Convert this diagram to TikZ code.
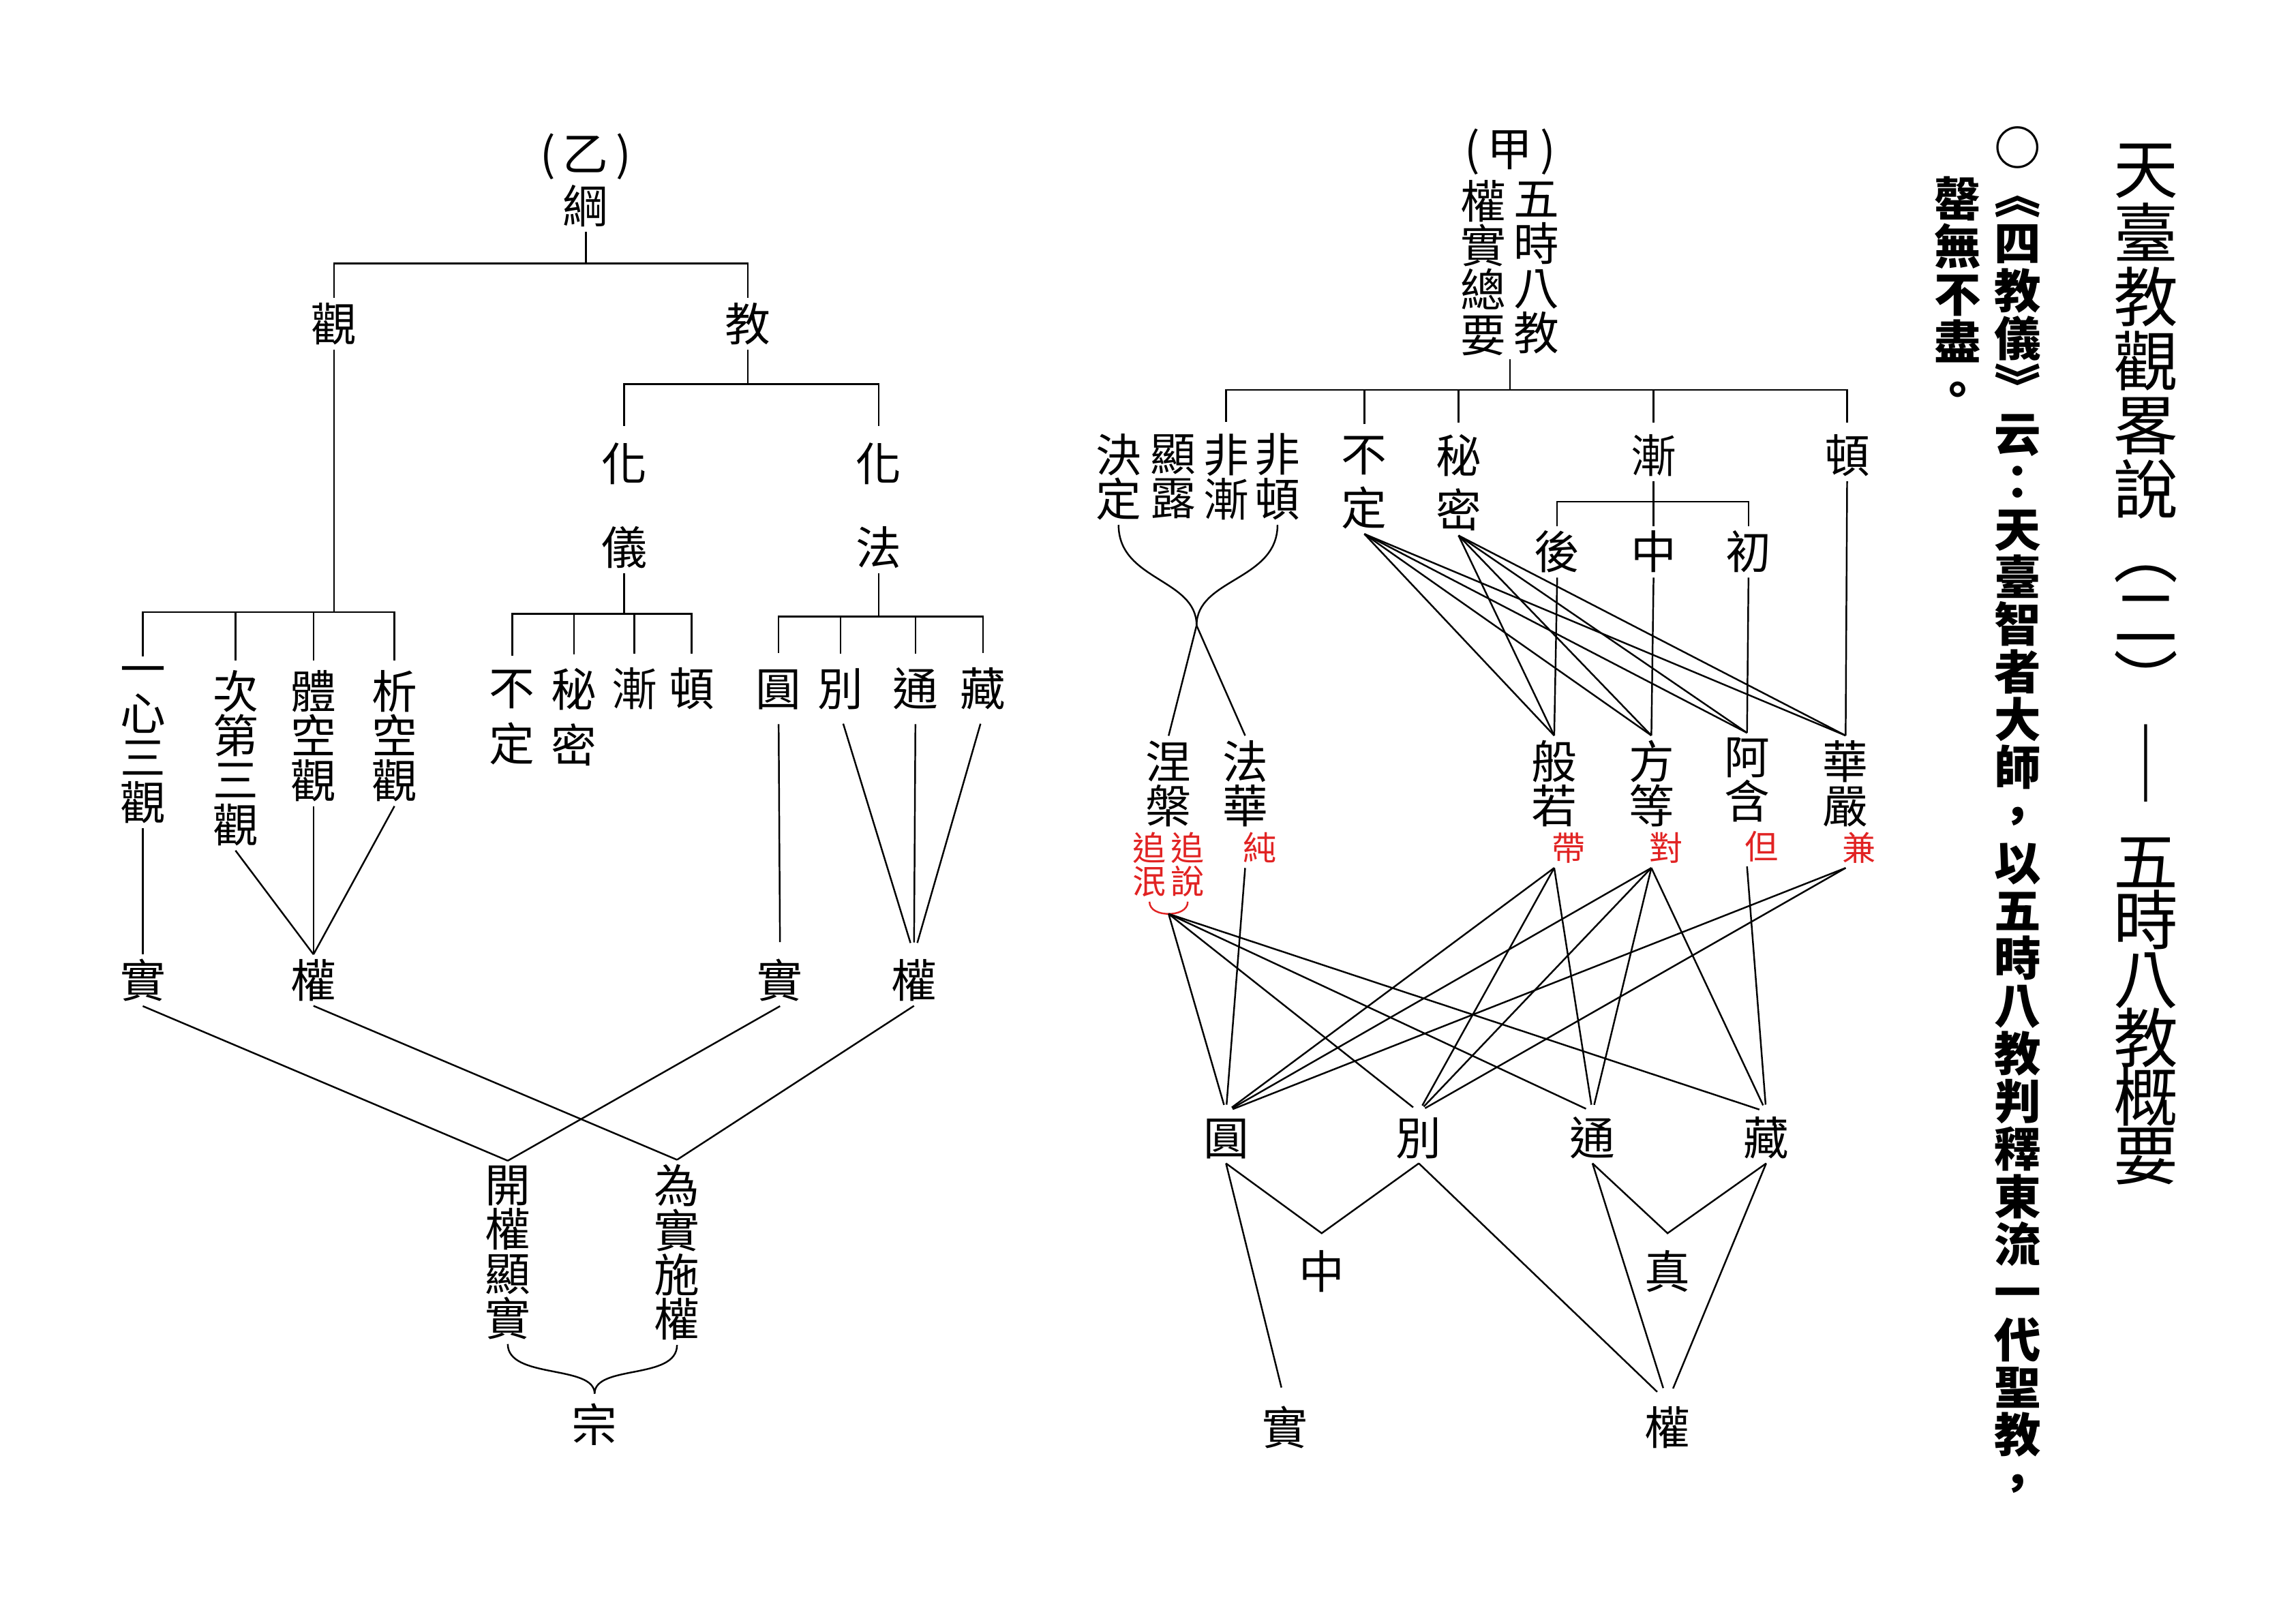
\documentclass[tikz,border=0pt]{standalone}
\usepackage{fontspec}
\setmainfont{Noto Sans CJK TC}
\newfontfamily\dashfont{Noto Sans CJK TC}[FakeStretch=0.65]
\usetikzlibrary{calc}
\definecolor{inkred}{RGB}{225,35,35}
\newcommand\cjs{\rule[-0.08em]{0pt}{0.92em}}
\newcommand\titlefont{\fontsize{27pt}{26.7pt}\selectfont\lineskiplimit=-50pt\relax}
\newcommand\longdash{\lower4.9pt\hbox{\dashfont\bfseries\fontsize{38pt}{38pt}\selectfont ︱}}

\begin{document}
\begin{tikzpicture}[x=0.2159mm, y=-0.2159mm, line width=0.7pt,
	lbl/.style={inner sep=2pt, outer sep=0pt, align=center,
		font=\fontsize{19pt}{18.6pt}\selectfont,
		execute at begin node=\cjs, execute at end node=\cjs},
	redlbl/.style={lbl, text=inkred, font=\fontsize{14pt}{14pt}\selectfont},
	col/.style={lbl, inner sep=0pt, anchor=north},
]
	\path[fill=white] (0,0) rectangle (1560,1102.4);
	\useasboundingbox (0,0) rectangle (1560,1102.4);

	% title columns
	\node[col, font=\titlefont] (title) at (1458,98)
		{天\\臺\\教\\觀\\畧\\說\\︵\\二\\︶\\[7pt]\longdash\\[15pt]五\\[-2.2pt]時\\[-2.2pt]八\\[-2.2pt]教\\[-2.2pt]概\\[-2.2pt]要};
	\node[col, font=\fontsize{19.5pt}{19.9pt}\selectfont\bfseries] (quote) at (1371,86) {○\\︽\\四\\教\\儀\\︾\\云\\：\\天\\臺\\智\\者\\大\\師\\，\\以\\五\\時\\八\\教\\判\\釋\\東\\流\\一\\代\\聖\\教\\，};
	\node[col, font=\fontsize{19.5pt}{19.9pt}\selectfont\bfseries] (quoteend) at (1330,120) {罄\\無\\不\\盡\\。};

	% (yi) gang
	\node[lbl] (yi) at (398,106) {(\,乙\,)};
	\node[lbl] (gang) at (398,140) {綱};
	\coordinate (gangbar) at (398,179);
	\node[lbl] (guan) at (227,220) {觀};
	\node[lbl] (jiao) at (508,220) {教};
	\draw (gang.south) -- (gangbar);
	\draw (guan.north) |- (gangbar) -| (jiao.north);

	\coordinate (jiaobar) at (508,261);
	\node[lbl] (hua1) at (424,315) {化};
	\node[lbl] (yiy) at (424,372) {儀};
	\node[lbl] (hua2) at (597,315) {化};
	\node[lbl] (fa) at (597,372) {法};
	\draw (jiao.south) -- (jiaobar);
	\draw[shorten <=5pt, shorten >=5pt] (hua1.north) |- (jiaobar) -| (hua2.north);

	% guan branch
	\coordinate (guanbar) at (227,416);
	\node[lbl] (yixin) at (97,506) {一\\心\\三\\觀};
	\node[lbl] (cidi) at (160,515) {次\\第\\三\\觀};
	\node[lbl] (tikong) at (213,500) {體\\空\\觀};
	\node[lbl] (xikong) at (268,500) {析\\空\\觀};
	\draw (guan.south) -- (guanbar);
	\draw[shorten <=2pt, shorten >=2pt] (yixin.north) |- (guanbar) -| (xikong.north);
	\foreach \n in {cidi,tikong} \draw[shorten <=2pt] (\n.north) -- (\n.north |- guanbar);

	% huayi branch
	\coordinate (yibar) at (424,417);
	\node[lbl] (buding1) at (348,487.5) {不\\[4.7pt]定};
	\node[lbl] (mimi1) at (390,487.5) {秘\\[4.7pt]密};
	\node[lbl] (jian1) at (431,468) {漸};
	\node[lbl] (dun1) at (470,468) {頓};
	\draw (yiy.south) -- (yibar);
	\draw[shorten <=4pt, shorten >=4pt] (buding1.north) |- (yibar) -| (dun1.north);
	\foreach \n in {mimi1,jian1} \draw[shorten <=4pt] (\n.north) -- (\n.north |- yibar);

	% huafa branch
	\coordinate (fabar) at (597,419);
	\node[lbl] (yuan1) at (529,468) {圓};
	\node[lbl] (bie1) at (571,468) {別};
	\node[lbl] (tong1) at (622,468) {通};
	\node[lbl] (zang1) at (668,468) {藏};
	\draw (fa.south) -- (fabar);
	\draw[shorten <=4pt, shorten >=4pt] (yuan1.north) |- (fabar) -| (zang1.north);
	\foreach \n in {bie1,tong1} \draw[shorten <=4pt] (\n.north) -- (\n.north |- fabar);

	% quan shi
	\node[lbl] (shi1) at (97,666) {實};
	\node[lbl] (quan1) at (213,666) {權};
	\node[lbl] (shi2) at (530,666) {實};
	\node[lbl] (quan2) at (621,666) {權};
	\draw (yixin.south) -- (shi1.north);
	\foreach \n in {cidi,tikong,xikong} \draw (\n.south) -- (quan1.north);
	\draw[shorten <=4pt, shorten >=5pt] (yuan1.south) -- (shi2.north);
	\foreach \n in {bie1,tong1,zang1} \draw[shorten <=4pt, shorten >=5pt] (\n.south) -- (quan2.north);

	\node[lbl] (kaiquan) at (345,851) {開\\權\\顯\\實};
	\node[lbl] (weishi) at (460,851) {為\\實\\施\\權};
	\draw (shi1.south) -- (kaiquan.north);
	\draw (shi2.south) -- (kaiquan.north);
	\draw (quan1.south) -- (weishi.north);
	\draw (quan2.south) -- (weishi.north);

	\coordinate (zongpt) at (404,947);
	\node[lbl] (zong) at (404,968) {宗};
	\draw (kaiquan.south) .. controls +(0,24) and +(0,-20) .. (zongpt);
	\draw (weishi.south) .. controls +(0,24) and +(0,-20) .. (zongpt);

	% (jia) wushi bajiao
	\node[lbl] (jia) at (1026,103) {(\,甲\,)};
	\node[lbl] (quanshi) at (1008,182) {權\\實\\總\\要};
	\node[lbl] (wushi) at (1044,182) {五\\時\\八\\教};
	\coordinate (jiabar) at (1026,265);
	\draw ($(quanshi.south)!.5!(wushi.south)$) -- (jiabar);

	\node[lbl] (jueding) at (760,324) {決\\定};
	\node[lbl] (xianlu) at (797,324) {顯\\露};
	\node[lbl] (feijian) at (833,324) {非\\漸};
	\node[lbl] (feidun) at (868,324) {非\\頓};
	\node[lbl] (buding) at (927,328) {不\\[4pt]定};
	\node[lbl] (mimi) at (991,328) {秘\\[4pt]密};
	\node[lbl] (jian) at (1123.5,309.5) {漸};
	\node[lbl] (dun) at (1255,309.5) {頓};
	\draw[shorten <=3pt, shorten >=3pt] (feijian.north) |- (jiabar) -| (dun.north);
	\foreach \n in {buding,mimi,jian} \draw[shorten <=3pt] (\n.north) -- (\n.north |- jiabar);

	\coordinate (jianbar) at (1123.5,341);
	\node[lbl] (hou) at (1058,375) {後};
	\node[lbl] (zhong) at (1123.5,375) {中};
	\node[lbl] (chu) at (1188,375) {初};
	\draw (jian.south) -- (zhong.north);
	\draw (hou.north) |- (jianbar) -| (chu.north);

	% five periods
	\node[lbl] (niepan) at (794,532.5) {涅\\槃};
	\node[lbl] (fahua) at (846,532.5) {法\\華};
	\node[lbl] (banruo) at (1056,532.5) {般\\若};
	\node[lbl] (fangdeng) at (1122,532.5) {方\\等};
	\node[lbl] (ahan) at (1187,530) {阿\\含};
	\node[lbl] (huayan) at (1254,532.5) {華\\嚴};

	\draw (hou.south) -- (banruo.north);
	\draw (zhong.south) -- (fangdeng.north);
	\draw (chu.south) -- (ahan.north);
	\draw (dun.south) -- (huayan.north);
	\foreach \t in {banruo,fangdeng,ahan,huayan} {
		\draw (buding.south) -- (\t.north);
		\draw (mimi.south) -- (\t.north);
	}

	\coordinate (juept) at (813,425);
	\draw (jueding.south) .. controls +(0,38) and +(0,-32) .. (juept) -- (fahua.north);
	\draw (feidun.south) .. controls +(0,38) and +(0,-32) .. (juept) -- (niepan.north);

	% red notes
	\node[redlbl] (zhuimin) at (781,587.5) {追\\泯};
	\node[redlbl] (zhuishuo) at (807,587.5) {追\\說};
	\node[redlbl] (chun) at (856,576) {純};
	\node[redlbl] (dai) at (1066,576) {帶};
	\node[redlbl] (dui) at (1132,576) {對};
	\node[redlbl] (dan) at (1197,575) {但};
	\node[redlbl] (jianr) at (1263,576) {兼};
	\coordinate (niepanpt) at (794,621);
	\draw[inkred] (zhuimin.south) to[out=-90, in=180] (niepanpt) to[out=0, in=-90] (zhuishuo.south);

	% four teachings
	\node[lbl] (yuan2) at (833,773) {圓};
	\node[lbl] (bie2) at (964,773) {別};
	\node[lbl] (tong2) at (1082,773) {通};
	\node[lbl] (zang2) at (1200,773) {藏};

	\foreach \t in {yuan2,bie2,tong2,zang2} \draw[shorten >=3pt] (niepanpt) -- (\t.north);
	\draw[shorten >=3pt] (fahua |- chun.south) -- (yuan2.north);
	\foreach \t in {yuan2,bie2,tong2} \draw[shorten >=3pt] (banruo |- dai.south) -- (\t.north);
	\foreach \t in {yuan2,bie2,tong2,zang2} \draw[shorten >=3pt] (fangdeng |- dui.south) -- (\t.north);
	\draw[shorten >=3pt] (ahan |- dan.south) -- (zang2.north);
	\foreach \t in {yuan2,bie2} \draw[shorten >=3pt] (huayan |- jianr.south) -- (\t.north);

	% zhong zhen, shi quan
	\coordinate (zhongpt) at (898,838);
	\coordinate (zhenpt) at (1133,838);
	\node[lbl] (zhong2) at (898,864) {中};
	\node[lbl] (zhen) at (1133,864) {真};
	\node[lbl] (shi3) at (873,970) {實};
	\node[lbl] (quan3) at (1133,970) {權};
	\draw (yuan2.south) -- (zhongpt) -- (bie2.south);
	\draw (tong2.south) -- (zhenpt) -- (zang2.south);
	\draw[shorten >=6pt] (yuan2.south) -- (shi3.north);
	\foreach \n in {bie2,tong2,zang2} \draw[shorten >=6pt] (\n.south) -- (quan3.north);

\end{tikzpicture}
\end{document}
